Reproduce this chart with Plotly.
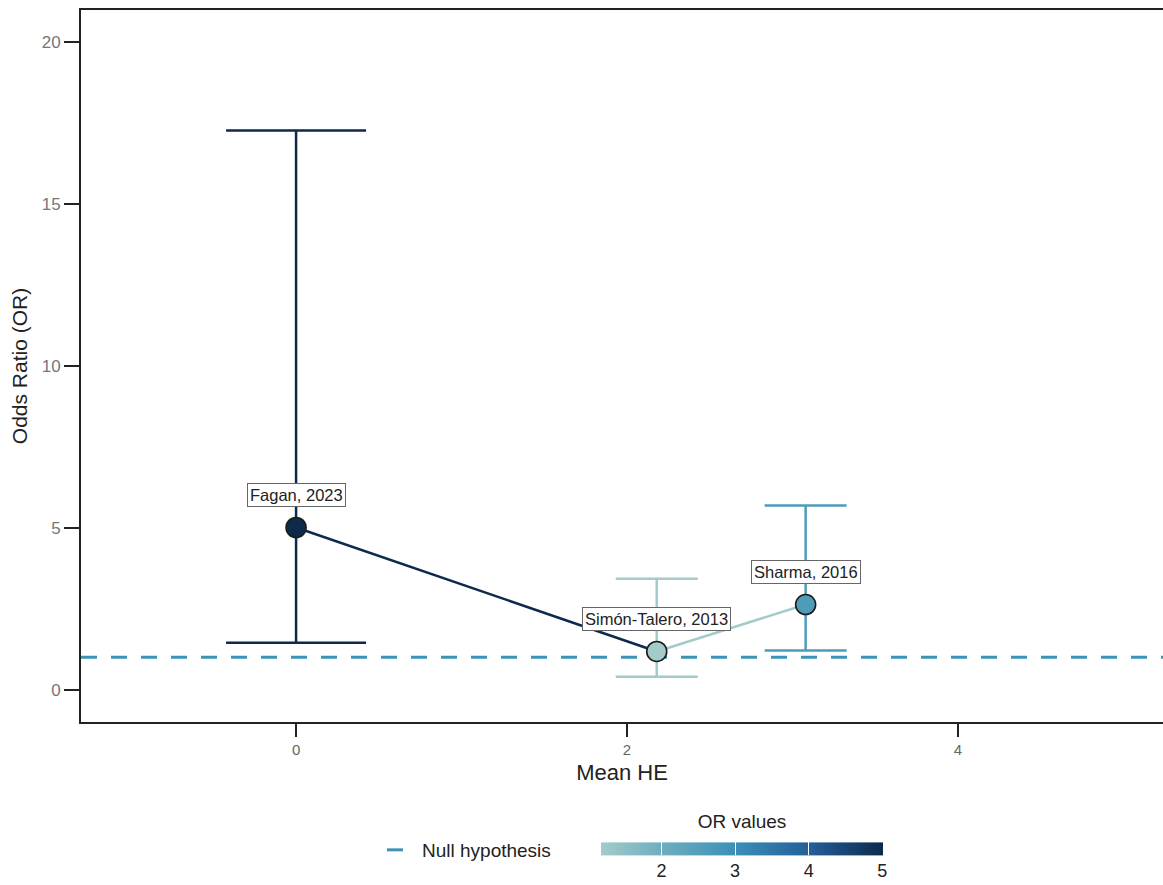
import plotly.graph_objects as go
from plotly.colors import sample_colorscale

# Study-level estimates
studies = ["Fagan, 2023", "Simón-Talero, 2013", "Sharma, 2016"]
mean_he = [0.0, 2.18, 3.08]
odds_ratio = [5.01, 1.18, 2.63]
ci_low = [1.45, 0.40, 1.21]
ci_high = [17.28, 3.43, 5.69]
cap_halfwidth_px = [70, 41, 41]

null_or = 1.0
or_ticks = [2, 3, 4, 5]
y_ticks = [0, 5, 10, 15, 20]
x_ticks = [0, 2, 4]

or_min, or_max = min(odds_ratio), max(odds_ratio)
colorscale = [
    [0.0, "#a3cbca"],
    [0.21, "#6eafbf"],
    [0.48, "#3a8fb7"],
    [0.74, "#235f99"],
    [1.0, "#0d2a4c"],
]


def or_colour(v):
    t = (v - or_min) / (or_max - or_min)
    return sample_colorscale(colorscale, [t])[0]


FONT = "Liberation Sans, Arial, sans-serif"
PLOT_W = 1163 - 81
PLOT_H = 722 - 10
fig = go.Figure()

# Null hypothesis reference line
fig.add_trace(go.Scatter(
    x=[-1.3, 5.3], y=[null_or, null_or], mode="lines",
    line=dict(color="#3c93b8", width=3, dash="16px,14px"),
    name="Null hypothesis", showlegend=True, hoverinfo="skip",
))

# Path between studies (ordered by Mean HE), each segment coloured by its start
order = sorted(range(len(studies)), key=lambda i: mean_he[i])
for a, b in zip(order[:-1], order[1:]):
    fig.add_trace(go.Scatter(
        x=[mean_he[a], mean_he[b]], y=[odds_ratio[a], odds_ratio[b]],
        mode="lines", line=dict(color=or_colour(odds_ratio[a]), width=2.5),
        showlegend=False, hoverinfo="skip",
    ))

# Points with confidence intervals
for i, s in enumerate(studies):
    c = or_colour(odds_ratio[i])
    fig.add_trace(go.Scatter(
        x=[mean_he[i]], y=[odds_ratio[i]], mode="markers", name=s,
        marker=dict(size=20, color=c, line=dict(color="#1c1c1c", width=1.6)),
        error_y=dict(type="data", symmetric=False,
                     array=[ci_high[i] - odds_ratio[i]],
                     arrayminus=[odds_ratio[i] - ci_low[i]],
                     color=c, thickness=2.5, width=cap_halfwidth_px[i]),
        showlegend=False,
    ))
    fig.add_annotation(
        x=mean_he[i], y=odds_ratio[i] + 1, text=s, showarrow=False,
        font=dict(family=FONT, size=16.5, color="#222222"),
        bgcolor="white", bordercolor="#666666", borderwidth=1, borderpad=2,
    )

# Colour bar for the OR values
fig.add_trace(go.Scatter(
    x=[None], y=[None], mode="markers", showlegend=False, hoverinfo="skip",
    marker=dict(
        color=[or_min, or_max], cmin=or_min, cmax=or_max,
        colorscale=colorscale, showscale=True,
        colorbar=dict(
            orientation="h", lenmode="pixels", len=282, thickness=13,
            xpad=0, ypad=0,
            x=(601 - 81) / PLOT_W, xanchor="left",
            y=(722 - 895) / PLOT_H, yanchor="bottom",
            title=dict(text="OR values", side="top",
                       font=dict(family=FONT, size=19, color="#222222")),
            tickvals=or_ticks, ticktext=[str(t) for t in or_ticks],
            ticks="inside", ticklen=13, tickcolor="white", tickwidth=1,
            tickfont=dict(family=FONT, size=18, color="#222222"),
            outlinewidth=0,
        ),
    ),
))

fig.update_layout(
    width=1163, height=885,
    margin=dict(l=81, r=0, t=10, b=163, autoexpand=False),
    plot_bgcolor="white", paper_bgcolor="white",
    font=dict(family=FONT),
    legend=dict(orientation="h", x=(382 - 81) / PLOT_W, xanchor="left",
                y=(722 - 850) / PLOT_H, yanchor="middle",
                font=dict(family=FONT, size=19, color="#222222"),
                itemwidth=30),
    xaxis=dict(
        range=[-1.3, 5.24], tickvals=x_ticks, showgrid=False, zeroline=False,
        showline=True, linecolor="#222222", linewidth=2, mirror=True,
        ticks="outside", ticklen=13, tickwidth=2, tickcolor="#222222",
        tickfont=dict(family=FONT, size=15, color="#666666"),
        title=dict(text="Mean HE", font=dict(family=FONT, size=22, color="#222222"),
                   standoff=8),
    ),
    yaxis=dict(
        range=[-1, 21], tickvals=y_ticks, showgrid=False, zeroline=False,
        showline=True, linecolor="#222222", linewidth=2,
        ticks="outside", ticklen=15, tickwidth=2, tickcolor="#222222",
        tickfont=dict(family=FONT, size=17, color="#777777"),
        title=dict(text="Odds Ratio (OR)", font=dict(family=FONT, size=21, color="#222222"),
                   standoff=8),
    ),
)

fig.write_html("out.html")
